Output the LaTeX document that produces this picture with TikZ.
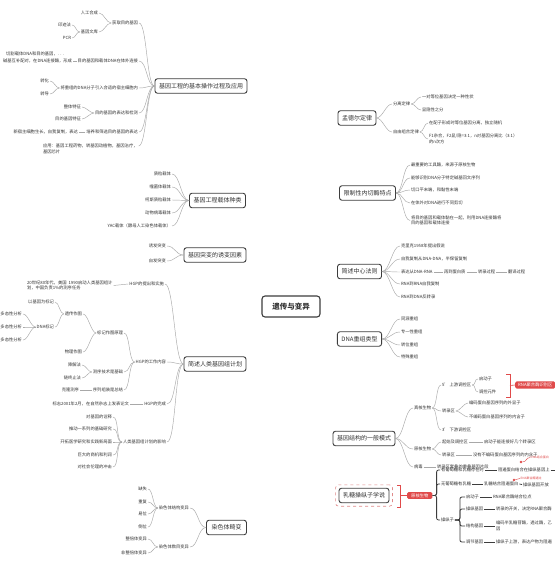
\documentclass[tikz,border=0pt]{standalone}
\usepackage{fontspec}
\setmainfont{Noto Sans CJK SC}
\usetikzlibrary{backgrounds,fit}
\definecolor{txt}{HTML}{333333}
\definecolor{boxc}{HTML}{3D3D3D}
\definecolor{mainc}{HTML}{4D4D4D}
\definecolor{linec}{HTML}{A8A8A8}
\definecolor{redc}{HTML}{E04A4A}
\definecolor{dashred}{HTML}{E08A8A}
\tikzset{
 leaf/.style={font=\fontsize{4.3}{5.6}\selectfont, text=txt, inner sep=0.8pt},
 le/.style={leaf, anchor=east},
 lw/.style={leaf, anchor=west},
 brbox/.style={draw=boxc, line width=0.9pt, rounded corners=2.5pt, fill=white, text=txt, font=\fontsize{6}{7}\selectfont, inner xsep=4pt, inner ysep=0pt, minimum height=14.5pt},
 link/.style={draw=linec, line width=0.45pt},
 dlink/.style={draw=boxc, line width=0.8pt, rounded corners=2pt},
 mainln/.style={draw=mainc, line width=1pt},
 redtag/.style={fill=redc, text=white, rounded corners=1.5pt, font=\fontsize{4.3}{5}\selectfont, inner xsep=3pt, inner ysep=1.5pt},
 note/.style={font=\fontsize{3}{3.5}\selectfont, text=redc, inner sep=0.5pt, anchor=west},
}
\newcommand\lcon[3][7pt]{\draw[link] (#2.west) to[out=180,in=0,distance=#1] (#3.east);}
\newcommand\rcon[3][7pt]{\draw[link] (#2.east) to[out=0,in=180,distance=#1] (#3.west);}
\begin{document}
\begin{tikzpicture}[x=1pt,y=-1pt]
\useasboundingbox (0,0) rectangle (554,569);
\fill[white] (0,0) rectangle (554,569);

% center
\node[draw=boxc, line width=1.1pt, rounded corners=3pt, fill=white, text=txt, font=\fontsize{7.5}{9}\selectfont\bfseries, minimum width=58pt, minimum height=21pt] (c) at (291,306.5) {遗传与变异};

% ---------- LEFT 1
\node[brbox] (b1) at (201,86) {基因工程的基本操作过程及应用};
\node[le] (a1) at (139,23) {获取目的基因};
\node[le] (a1a) at (99,13) {人工合成};
\node[le] (a1b) at (99,32) {基因文库};
\node[le] (a1b1) at (72,25) {印迹法};
\node[le] (a1b2) at (72,38) {PCR};
\node[le] (a2) at (139,61) {目的基因和载体DNA在体外连接};
\node[le] (a2x) at (65,54) {切割载体DNA和目的基因，. . .};
\node[le] (a2y) at (73,61) {碱基互补配对，在DNA连接酶，形成};
\node[le] (a3) at (139,88) {将重组的DNA分子引入合适的宿主细胞内};
\node[le] (a3a) at (50,81) {转化};
\node[le] (a3b) at (50,94) {转导};
\node[le] (a4) at (139,113) {目的基因的表达和检测};
\node[le] (a4a) at (82,107) {整体特征};
\node[le] (a4b) at (82,119) {目的基因特征};
\node[le] (a5) at (139,132) {培养和筛选目的基因的表达};
\node[le] (a5a) at (79,132) {新宿主细胞生长，自我复制，表达};
\node[leaf, anchor=north west, align=left] (a6) at (42,143) {应用：基因工程药物，转基因动植物，基因治疗，\\基因芯片};
\coordinate (a6e) at ([yshift=-3pt]a6.north east);
\lcon[8pt]{b1}{a1} \lcon[8pt]{b1}{a2} \lcon[8pt]{b1}{a3} \lcon[8pt]{b1}{a4} \lcon[8pt]{b1}{a5}
\draw[link] (b1.west) to[out=180,in=0,distance=8pt] (a6e);
\lcon[5pt]{a1}{a1a} \lcon[5pt]{a1}{a1b} \lcon[4pt]{a1b}{a1b1} \lcon[4pt]{a1b}{a1b2}
\draw[link] (a2.west) -- (a2y.east);
\lcon[4pt]{a3}{a3a} \lcon[4pt]{a3}{a3b}
\lcon[4pt]{a4}{a4a} \lcon[4pt]{a4}{a4b}
\draw[link] (a5.west) -- (a5a.east);

% ---------- LEFT 2
\node[brbox] (b2) at (217.5,200.5) {基因工程载体种类};
\node[le] (v1) at (172,174) {质粒载体};
\node[le] (v2) at (172,187) {噬菌体载体};
\node[le] (v3) at (172,200) {柯斯质粒载体};
\node[le] (v4) at (172,213) {动物病毒载体};
\node[le] (v5) at (172,226) {YAC载体（酵母人工染色体载体）};
\lcon[8pt]{b2}{v1} \lcon[8pt]{b2}{v2} \lcon[8pt]{b2}{v3} \lcon[8pt]{b2}{v4} \lcon[8pt]{b2}{v5}

% ---------- LEFT 3
\node[brbox] (b3) at (215,255) {基因突变的诱变因素};
\node[le] (m1) at (167,246) {诱发突变};
\node[le] (m2) at (167,261) {自发突变};
\lcon[8pt]{b3}{m1} \lcon[8pt]{b3}{m2}

% ---------- LEFT 4
\node[brbox] (b4) at (215,364) {简述人类基因组计划};
\node[le] (c1) at (165,284) {HGP的提出和实施};
\node[leaf, anchor=west, align=left] (c1a) at (26,285.5) {20世纪80年代，美国\ \ 1990启动人类基因组计\\划，中国负责1\%的测序任务};
\node[le] (c2) at (167,362) {HGP的工作内容};
\node[le] (c2a) at (124,333) {标记作图原理};
\node[le] (c2a1) at (83,314) {遗传作图};
\node[le] (c2a1a) at (55,302) {以基因为标记};
\node[le] (c2a1b) at (55,327) {DNA标记};
\node[le] (p1) at (23,314) {多态性分析};
\node[le] (p2) at (23,327) {多态性分析};
\node[le] (p3) at (23,340) {多态性分析};
\node[le] (c2a2) at (83,352) {物理作图};
\node[le] (c2b) at (124,372) {测序技术是基础};
\node[le] (c2b1) at (82,365) {降解法};
\node[le] (c2b2) at (82,378) {链终止法};
\node[le] (c2c) at (124,390) {序列组装是总结};
\node[le] (c2c1) at (80,390) {克隆测序};
\node[le] (c3) at (167,404) {HGP的完成};
\node[le] (c3a) at (130,404) {标志2001年2月，在自然杂志上发表论文};
\node[le] (c4) at (167,442) {人类基因组计划的影响};
\node[le] (i1) at (113,417) {对基因的诠释};
\node[le] (i2) at (113,429) {推动一系列的基础研究};
\node[le] (i3) at (113,442) {开拓医学研究和实践新局面};
\node[le] (i4) at (113,455) {巨大的商机和利润};
\node[le] (i5) at (113,467) {对社会伦理的冲击};
\lcon[9pt]{b4}{c1} \lcon[9pt]{b4}{c2} \lcon[9pt]{b4}{c3} \lcon[9pt]{b4}{c4}
\draw[link] (c1.west) -- (c1a.east);
\lcon[6pt]{c2}{c2a} \lcon[6pt]{c2}{c2b} \lcon[6pt]{c2}{c2c}
\lcon[5pt]{c2a}{c2a1} \lcon[5pt]{c2a}{c2a2}
\lcon[4pt]{c2a1}{c2a1a} \lcon[4pt]{c2a1}{c2a1b}
\lcon[5pt]{c2a1b}{p1} \lcon[5pt]{c2a1b}{p2} \lcon[5pt]{c2a1b}{p3}
\lcon[4pt]{c2b}{c2b1} \lcon[4pt]{c2b}{c2b2}
\draw[link] (c2c.west) -- (c2c1.east);
\draw[link] (c3.west) -- (c3a.east);
\lcon[6pt]{c4}{i1} \lcon[6pt]{c4}{i2} \lcon[6pt]{c4}{i3} \lcon[6pt]{c4}{i4} \lcon[6pt]{c4}{i5}

% ---------- LEFT 5
\node[brbox, inner xsep=5pt] (b5) at (226.5,527.5) {染色体畸变};
\node[le] (d1) at (190,508) {染色体结构变异};
\node[le] (d1a) at (148,489) {缺失};
\node[le] (d1b) at (148,502) {重复};
\node[le] (d1c) at (148,514) {易位};
\node[le] (d1d) at (148,527) {倒位};
\node[le] (d2) at (190,547) {染色体数目变异};
\node[le] (d2a) at (148,539) {整倍体变异};
\node[le] (d2b) at (148,553) {非整倍体变异};
\lcon[8pt]{b5}{d1} \lcon[8pt]{b5}{d2}
\lcon[5pt]{d1}{d1a} \lcon[5pt]{d1}{d1b} \lcon[5pt]{d1}{d1c} \lcon[5pt]{d1}{d1d}
\lcon[5pt]{d2}{d2a} \lcon[5pt]{d2}{d2b}

% ---------- RIGHT 1
\node[brbox] (r1) at (357,118) {孟德尔定律};
\node[lw] (e1) at (392,104) {分离定律};
\node[lw] (e1a) at (421,97) {一对等位基因决定一种性状};
\node[lw] (e1b) at (421,110) {显隐性之分};
\node[lw] (e2) at (392,132) {自由组合定律};
\node[lw] (e2a) at (428,123) {在配子形成时等位基因分离，独立随机};
\node[leaf, anchor=west, align=left] (e2b) at (428,139) {F1杂合，F2显/隐=3:1，n对基因分离比（3:1）\\的n次方};
\rcon[6pt]{r1}{e1} \rcon[6pt]{r1}{e2}
\rcon[4pt]{e1}{e1a} \rcon[4pt]{e1}{e1b}
\rcon[4pt]{e2}{e2a} \rcon[4pt]{e2}{e2b}

% ---------- RIGHT 2
\node[brbox] (r2) at (367.5,193) {限制性内切酶特点};
\node[lw] (q1) at (410,165) {最重要的工具酶，来源于原核生物};
\node[lw] (q2) at (410,178) {能够识别DNA分子特定碱基回文序列};
\node[lw] (q3) at (410,190) {切口平末端，和黏性末端};
\node[lw] (q4) at (410,203) {在体外对DNA进行不同剪切};
\node[leaf, anchor=west, align=left] (q5) at (410,220.5) {将目的基因和载体黏在一起，利用DNA连接酶将\\目的基因和载体连接};
\rcon[7pt]{r2}{q1} \rcon[7pt]{r2}{q2} \rcon[7pt]{r2}{q3} \rcon[7pt]{r2}{q4} \rcon[7pt]{r2}{q5}

% ---------- RIGHT 3
\node[brbox] (r3) at (359.5,271.5) {简述中心法则};
\node[lw] (s1) at (400,246) {克里克1958年提出假说};
\node[lw] (s2) at (400,259) {自我复制从DNA-DNA，半保留复制};
\node[lw] (s3) at (400,272) {表达从DNA-RNA};
\node[lw] (s3a) at (443,272) {再到蛋白质};
\node[lw] (s3b) at (477,272) {转录过程};
\node[lw] (s3c) at (507,272) {翻译过程};
\node[lw] (s4) at (400,284) {RNA到RNA自我复制};
\node[lw] (s5) at (400,297) {RNA到DNA反转录};
\rcon[8pt]{r3}{s1} \rcon[8pt]{r3}{s2} \rcon[8pt]{r3}{s3} \rcon[8pt]{r3}{s4} \rcon[8pt]{r3}{s5}
\draw[link] (s3.east) -- (s3a.west);
\draw[link] (s3a.east) -- (s3b.west);
\draw[link] (s3b.east) -- (s3c.west);

% ---------- RIGHT 4
\node[brbox] (r4) at (359.5,339) {DNA重组类型};
\node[lw] (t1) at (400,319) {同源重组};
\node[lw] (t2) at (400,332) {专一性重组};
\node[lw] (t3) at (400,345) {转位重组};
\node[lw] (t4) at (400,357) {特殊重组};
\rcon[8pt]{r4}{t1} \rcon[8pt]{r4}{t2} \rcon[8pt]{r4}{t3} \rcon[8pt]{r4}{t4}

% ---------- RIGHT 5
\node[brbox] (r5) at (364,438.5) {基因结构的一般模式};
\node[lw] (f1) at (413,408) {真核生物};
\node[lw] (g1) at (441,385) {5’ 上游调控区};
\node[lw] (g1a) at (478,379) {启动子};
\node[lw] (g1b) at (478,392) {调控元件};
\node[redtag, anchor=west] (rtag) at (515,385) {RNA聚合酶识别区};
\node[lw] (g2) at (441,411) {转录区};
\node[lw] (g2a) at (468,403) {编码蛋白基因序列的外显子};
\node[lw] (g2b) at (468,417) {不编码蛋白基因序列的内含子};
\node[lw] (g3) at (441,430) {3’ 下游调控区};
\node[lw] (f2) at (413,449) {原核生物};
\node[lw] (u1) at (441,442) {起始及调控区};
\node[lw] (u1a) at (483,442) {启动子能连接好几个转录区};
\node[lw] (u2) at (441,455) {转录区};
\node[lw] (u2a) at (472,455) {没有不编码蛋白基因序列的内含子};
\node[lw] (f3) at (413,467) {病毒};
\node[lw] (f3a) at (436,467) {转录区套叠的重叠基因片段};
\rcon[8pt]{r5}{f1} \rcon[8pt]{r5}{f2} \rcon[8pt]{r5}{f3}
\rcon[5pt]{f1}{g1} \rcon[5pt]{f1}{g2} \rcon[5pt]{f1}{g3}
\rcon[4pt]{g1}{g1a} \rcon[4pt]{g1}{g1b}
\rcon[4pt]{g2}{g2a} \rcon[4pt]{g2}{g2b}
\rcon[4pt]{f2}{u1} \rcon[4pt]{f2}{u2}
\draw[link] (u1.east) -- (u1a.west);
\draw[link] (u2.east) -- (u2a.west);
\draw[link] (f3.east) -- (f3a.west);
\coordinate (kt) at (506,374); \coordinate (kb) at (506,397); \coordinate (km) at (510,385.5);
\draw[redc, line width=0.6pt] (kt) -- (510,374) -- (510,397) -- (kb);
\draw[redc, line width=0.6pt] (km) -- (rtag.west);
\node[circle, fill=redc, inner sep=0pt, minimum size=2.6pt] (dot1) at (521,462) {};
\node[note] (n1) at (530,457.5) {DNA结合蛋白};
\draw[redc, line width=0.4pt] (dot1) to[out=0,in=180,distance=4pt] (n1.west);

% ---------- RIGHT 6
\node[brbox] (r6) at (364,495.5) {乳糖操纵子学说};
\node[fit=(r6), draw=dashred, dashed, rounded corners=3pt, inner sep=3pt, line width=0.6pt] (r6f) {};
\node[redtag, anchor=west, inner xsep=4pt] (tag) at (407,495.5) {原核生物};
\coordinate (rbt) at (397,485); \coordinate (rbb) at (397,507); \coordinate (rbm) at (400,495.5);
\draw[redc, line width=0.7pt] (rbt) -- (400,485) -- (400,507) -- (rbb);
\draw[redc, line width=0.7pt] (rbm) -- (tag.west);
\node[lw] (h1) at (440,470) {有葡萄糖和乳糖存在时};
\node[lw] (h1a) at (497,470) {阻遏蛋白结合在操纵基因上};
\coordinate (h1off) at (566,470);
\node[lw] (h2) at (440,484) {无葡萄糖有乳糖};
\node[lw] (h2a) at (483,484) {乳糖结合阻遏蛋白};
\node[lw] (h2b) at (522,484.5) {操纵基因开放};
\node[circle, fill=redc, inner sep=0pt, minimum size=2.6pt] (dot2) at (514,480) {};
\node[note] (n2) at (520,478.5) {RNA聚合酶通过};
\node[lw] (h3) at (440,520) {操纵子};
\node[lw] (k1) at (465,497) {启动子};
\node[lw] (k1a) at (492,497) {RNA聚合酶结合位点};
\node[lw] (k2) at (465,509) {操纵基因};
\node[lw] (k2a) at (495,509) {转录的开关，决定RNA聚合酶};
\node[lw] (k3) at (465,526) {结构基因};
\node[leaf, anchor=west, align=left] (k3a) at (495,526) {编码半乳糖苷酶，透过酶，乙\\因};
\node[lw] (k4) at (465,542) {调节基因};
\node[lw] (k4a) at (495,542) {操纵子上游，表达产物为阻遏};
\draw[dlink] (tag.east) -- ++(4,0) |- (h1.west);
\draw[dlink] (tag.east) -- ++(4,0) |- (h2.west);
\draw[dlink] (tag.east) -- ++(4,0) |- (h3.west);
\draw[dlink] (h1.east) -- (h1a.west);
\draw[dlink] (h1a.east) -- (h1off);
\draw[dlink] (h2.east) -- (h2a.west);
\draw[dlink] (h2a.east) -- (h2b.west);
\draw[redc, line width=0.4pt] (dot2) -- (n2.west);
\draw[dlink] (h3.east) -- ++(5,0) |- (k1.west);
\draw[dlink] (h3.east) -- ++(5,0) |- (k2.west);
\draw[dlink] (h3.east) -- ++(5,0) |- (k3.west);
\draw[dlink] (h3.east) -- ++(5,0) |- (k4.west);
\draw[dlink] (k1.east) -- (k1a.west);
\draw[dlink] (k2.east) -- (k2a.west);
\draw[dlink] (k3.east) -- (k3a.west);
\draw[dlink] (k4.east) -- (k4a.west);

% ---------- main curves
\begin{scope}[on background layer]
\draw[mainln] ([xshift=-9pt]c.center) .. controls +(0,-150) and +(30,0) .. (b1.east);
\draw[mainln] ([xshift=-15pt]c.center) .. controls +(0,-70) and +(25,0) .. (b2.east);
\draw[mainln] ([xshift=-21pt]c.center) .. controls +(0,-30) and +(15,0) .. (b3.east);
\draw[mainln] ([xshift=-20pt]c.center) .. controls +(0,35) and +(15,0) .. (b4.east);
\draw[mainln] ([xshift=-12pt]c.center) .. controls +(0,150) and +(30,0) .. (b5.east);
\draw[mainln] ([xshift=5pt]c.center) .. controls +(0,-120) and +(-30,0) .. (r1.west);
\draw[mainln] ([xshift=9pt]c.center) .. controls +(0,-70) and +(-25,0) .. (r2.west);
\draw[mainln] ([xshift=14pt]c.center) .. controls +(0,-20) and +(-20,0) .. (r3.west);
\draw[mainln] ([xshift=14pt]c.center) .. controls +(0,20) and +(-20,0) .. (r4.west);
\draw[mainln] ([xshift=7pt]c.center) .. controls +(0,90) and +(-28,0) .. (r5.west);
\draw[mainln] ([xshift=0pt]c.center) .. controls +(0,130) and +(-30,0) .. (r6.west);
\end{scope}
\end{tikzpicture}
\end{document}
